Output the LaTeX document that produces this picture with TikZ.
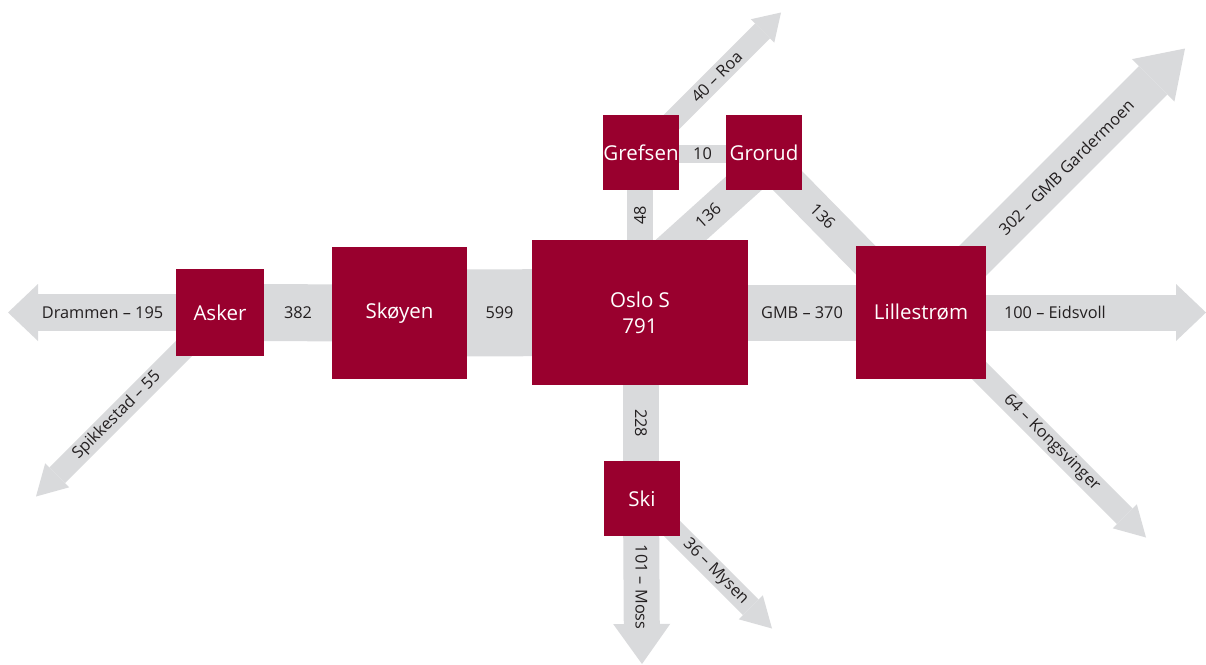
\documentclass[tikz,border=0pt]{standalone}
\usepackage{fontspec}
\setmainfont{Open Sans}
\usetikzlibrary{arrows.meta,backgrounds,calc}
\definecolor{nsbred}{RGB}{153,0,46}
\definecolor{bandgray}{RGB}{217,218,220}
\definecolor{labelink}{RGB}{35,31,32}
\begin{document}
\begin{tikzpicture}[x=1pt,y=-1pt,
  station/.style={fill=nsbred, text=white, inner sep=0pt, font=\fontsize{20.5}{26}\selectfont, align=center},
  band/.style={draw=bandgray, line cap=butt},
  flowlabel/.style={text=labelink, font=\fontsize{16.3}{18}\selectfont, inner sep=0pt},
  bigtip/.style={-{Triangle[length=30pt,width=57pt,line width=0pt]}},
  smalltip/.style={-{Triangle[length=30pt,width=34pt,line width=0pt]}}
]
\useasboundingbox (0,0) rectangle (1206,664);

% stations
\node[station, minimum width=88pt, minimum height=87pt] (asker) at (220,312.5) {Asker};
\node[station, minimum width=135pt, minimum height=132pt] (skoyen) at (399.5,313) {Skøyen};
\node[station, minimum width=216pt, minimum height=145pt] (oslo) at (640,312.5) {Oslo S\\791};
\node[station, minimum width=76pt, minimum height=75pt] (grefsen) at (641,152.5) {Grefsen};
\node[station, minimum width=76pt, minimum height=75pt] (grorud) at (764,152.5) {Grorud};
\node[station, minimum width=130pt, minimum height=133pt] (lillestrom) at (921,312.5) {Lillestrøm};
\node[station, minimum width=76pt, minimum height=75pt] (ski) at (642,498.5) {Ski};

% free ends of the outgoing arrows
\coordinate (drammenTip) at (8,312.5);
\coordinate (spikTip) at (36,496.5);
\coordinate (roaTip) at (781,12.5);
\coordinate (gmbTip) at (1185,48.5);
\coordinate (eidsTip) at (1206,312.5);
\coordinate (kongTip) at (1146,537.5);
\coordinate (mossTip) at (642,664);
\coordinate (mysenTip) at (772,628.5);

\begin{pgfonlayer}{background}
% links between stations
\draw[band, line width=57pt] (asker.center) -- (skoyen.center);
\node[flowlabel] at ($(asker.east)!.5!(skoyen.west)$) {382};
\draw[band, line width=87pt] (skoyen.center) -- (oslo.center);
\node[flowlabel] at ($(skoyen.east)!.5!(oslo.west)$) {599};
\draw[band, line width=56pt] (oslo.center) -- (lillestrom.center);
\node[flowlabel] at ($(oslo.east)!.5!(lillestrom.west)$) {GMB – 370};
\draw[band, line width=18pt] ([yshift=-1.5pt]grefsen.center) -- ([yshift=-1.5pt]grorud.center);
\node[flowlabel] at ($(grefsen.east)!.5!(grorud.west)+(0,1)$) {10};
\draw[band, line width=26pt] ([xshift=-1pt]grefsen.center) -- ([xshift=-1pt]grefsen.center |- oslo.center);
\node[flowlabel, rotate=90] at ($(grefsen.south)!.5!(grefsen.south |- oslo.north)+(-1,0)$) {48};
\draw[band, line width=36pt] ([xshift=-1pt]ski.center |- oslo.center) -- ([xshift=-1pt]ski.center);
\node[flowlabel, rotate=-90] at ($(ski.north |- oslo.south)!.5!(ski.north)+(-1,0)$) {228};
\draw[band, line width=34pt] ([xshift=-39.5pt]oslo.center) -- node[flowlabel, pos=0.606, rotate=42] {136} ([xshift=14pt]grorud.center);
\draw[band, line width=34pt] ([xshift=-4pt]grorud.center) -- node[flowlabel, pos=0.40, rotate=-45] {136} ([xshift=-4pt]lillestrom.center);

% outgoing flows
\draw[band, line width=37pt, bigtip] (asker.center) -- node[flowlabel, pos=0.554] {Drammen – 195} (drammenTip);
\draw[band, line width=22pt, smalltip] (asker.center) -- node[flowlabel, pos=0.56, rotate=45] {Spikkestad – 55} (spikTip);
\draw[band, line width=21pt, -{Triangle[length=26pt,width=33pt,line width=0pt]}] (grefsen.center) -- node[flowlabel, pos=0.54, rotate=45] {40 – Roa} (roaTip);
\draw[band, line width=40pt, -{Triangle[length=45pt,width=60pt,line width=0pt]}] (lillestrom.center) -- node[flowlabel, pos=0.55, rotate=45] {302 – GMB Gardermoen} (gmbTip);
\draw[band, line width=36pt, bigtip] (lillestrom.center) -- node[flowlabel, pos=0.47] {100 – Eidsvoll} (eidsTip);
\draw[band, line width=22pt, smalltip] (lillestrom.center) -- node[flowlabel, pos=0.58, rotate=-45] {64 – Kongsvinger} (kongTip);
\draw[band, line width=36pt, -{Triangle[length=40pt,width=57pt,line width=0pt]}] ([xshift=-1pt]ski.center) -- node[flowlabel, pos=0.535, rotate=-90] {101 – Moss} (mossTip);
\draw[band, line width=22pt, smalltip] (ski.center) -- node[flowlabel, pos=0.565, rotate=-45] {36 – Mysen} (mysenTip);
\end{pgfonlayer}
\end{tikzpicture}
\end{document}
